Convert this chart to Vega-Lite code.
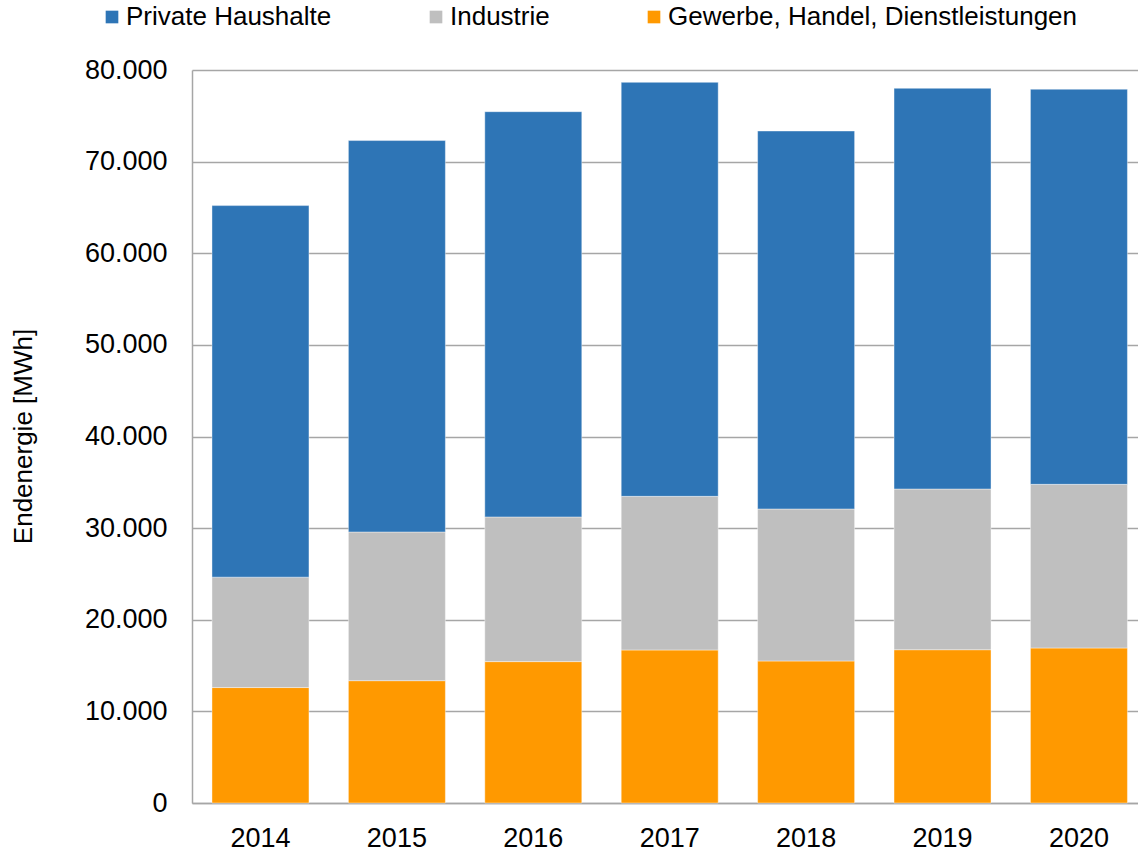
{
  "$schema": "https://vega.github.io/schema/vega-lite/v6.json",
  "autosize": {"type": "none"},
  "padding": {"left": 192, "top": 70, "right": 0, "bottom": 49},
  "width": 946,
  "height": 733,
  "background": "white",
  "config": {
    "font": "Liberation Sans",
    "view": {"stroke": null}
  },
  "data": {
    "values": [
      {"Jahr": "2014", "Sektor": "Gewerbe, Handel, Dienstleistungen", "MWh": 12600},
      {"Jahr": "2014", "Sektor": "Industrie", "MWh": 12050},
      {"Jahr": "2014", "Sektor": "Private Haushalte", "MWh": 40550},
      {"Jahr": "2015", "Sektor": "Gewerbe, Handel, Dienstleistungen", "MWh": 13350},
      {"Jahr": "2015", "Sektor": "Industrie", "MWh": 16230},
      {"Jahr": "2015", "Sektor": "Private Haushalte", "MWh": 42720},
      {"Jahr": "2016", "Sektor": "Gewerbe, Handel, Dienstleistungen", "MWh": 15430},
      {"Jahr": "2016", "Sektor": "Industrie", "MWh": 15790},
      {"Jahr": "2016", "Sektor": "Private Haushalte", "MWh": 44230},
      {"Jahr": "2017", "Sektor": "Gewerbe, Handel, Dienstleistungen", "MWh": 16700},
      {"Jahr": "2017", "Sektor": "Industrie", "MWh": 16770},
      {"Jahr": "2017", "Sektor": "Private Haushalte", "MWh": 45180},
      {"Jahr": "2018", "Sektor": "Gewerbe, Handel, Dienstleistungen", "MWh": 15500},
      {"Jahr": "2018", "Sektor": "Industrie", "MWh": 16590},
      {"Jahr": "2018", "Sektor": "Private Haushalte", "MWh": 41250},
      {"Jahr": "2019", "Sektor": "Gewerbe, Handel, Dienstleistungen", "MWh": 16730},
      {"Jahr": "2019", "Sektor": "Industrie", "MWh": 17540},
      {"Jahr": "2019", "Sektor": "Private Haushalte", "MWh": 43730},
      {"Jahr": "2020", "Sektor": "Gewerbe, Handel, Dienstleistungen", "MWh": 16920},
      {"Jahr": "2020", "Sektor": "Industrie", "MWh": 17860},
      {"Jahr": "2020", "Sektor": "Private Haushalte", "MWh": 43120}
    ]
  },
  "mark": {"type": "bar", "stroke": "#ffffff", "strokeWidth": 1, "strokeOpacity": 0.4},
  "encoding": {
    "x": {
      "field": "Jahr",
      "type": "ordinal",
      "scale": {"paddingInner": 0.289, "paddingOuter": 0.112, "align": 0.654},
      "axis": {
        "title": null,
        "labelAngle": 0,
        "labelFontSize": 27,
        "labelColor": "#000000",
        "labelPadding": 22,
        "ticks": false,
        "tickSize": 0,
        "domainColor": "#A6A6A6",
        "domainWidth": 1.5
      }
    },
    "y": {
      "field": "MWh",
      "type": "quantitative",
      "stack": "zero",
      "scale": {"domain": [0, 80000], "nice": false},
      "axis": {
        "title": "Endenergie [MWh]",
        "titleFontSize": 26,
        "titleFontWeight": "normal",
        "titleColor": "#000000",
        "titleX": -169,
        "titleY": 366,
        "titleAngle": -90,
        "titleAlign": "center",
        "titleBaseline": "middle",
        "values": [0, 10000, 20000, 30000, 40000, 50000, 60000, 70000, 80000],
        "labelExpr": "replace(format(datum.value, ','), ',', '.')",
        "labelFontSize": 27,
        "labelColor": "#000000",
        "labelPadding": 25,
        "ticks": false,
        "tickSize": 0,
        "domainColor": "#A6A6A6",
        "domainWidth": 1.5,
        "gridColor": "#A6A6A6",
        "gridWidth": 1.5
      }
    },
    "color": {
      "field": "Sektor",
      "type": "nominal",
      "scale": {
        "domain": ["Private Haushalte", "Industrie", "Gewerbe, Handel, Dienstleistungen"],
        "range": ["#2E75B6", "#BFBFBF", "#FF9900"]
      },
      "legend": {
        "title": null,
        "orient": "none",
        "direction": "horizontal",
        "legendX": -93,
        "legendY": -66,
        "padding": 0,
        "symbolType": "square",
        "symbolSize": 160,
        "symbolStrokeWidth": 0,
        "labelFontSize": 26,
        "labelColor": "#000000",
        "labelOffset": 1,
        "columnPadding": 91,
        "labelLimit": 600
      }
    },
    "order": {"field": "Sektor", "sort": "ascending"}
  }
}
